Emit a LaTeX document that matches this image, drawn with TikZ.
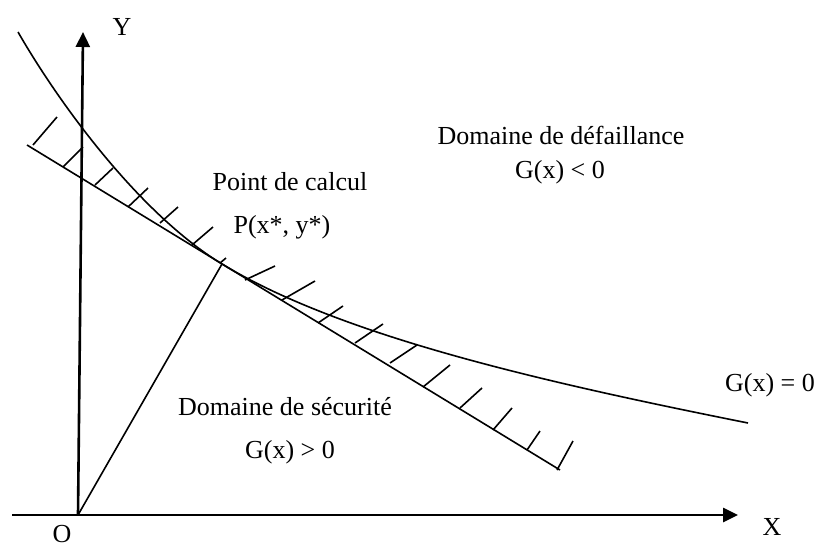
\documentclass[tikz,border=0pt]{standalone}
\usepackage{fontspec}
\setmainfont{Liberation Serif}
\usetikzlibrary{arrows.meta, calc}
\tikzset{
  every node/.style = {font=\fontsize{26}{30}\selectfont, inner sep=0pt},
  axe/.style    = {line width=2.6pt, -{Triangle[length=15pt,width=14pt]}},
  trait/.style  = {line width=1.6pt},
  hachure/.style= {line width=1.6pt},
  lbl/.style    = {anchor=center},
}
\begin{document}
\begin{tikzpicture}[x=1pt, y=-1pt]
\useasboundingbox (0,0) rectangle (817,549);

% axes
\coordinate (O) at (78,515);
\coordinate (xdeb) at (12,515);
\coordinate (xfin) at (738,515);
\coordinate (yfin) at (83,32);
\draw[axe] (xdeb) -- (xfin);
\draw[axe] (O) -- (yfin);
\node[lbl] (lX) at (772,527) {X};
\node[lbl] (lY) at (122,27) {Y};
\node[lbl] (lO) at (62,534) {O};

% etat limite G(x)=0 et tangente
\coordinate (P) at (222,264);
\coordinate (t1) at (27,145);
\coordinate (t2) at (560,470);
\draw[trait] (18,32) .. controls (60,105) and (140,214) .. (P)
  .. controls (342,337) and (548,383) .. (748,423);
\draw[trait] (t1) -- (t2);
\draw[trait] (O) -- (P);

% hachures
\foreach \a/\b/\c/\d in {33/145/57/117, 63/167/83/147, 95/185/113/168,
  128/207/148/188, 160/223/178/207, 192/245/213/227, 220/263/226/258,
  245/280/275/266, 282/300/315/281, 318/323/343/306, 355/343/383/324,
  390/363/417/345, 423/387/450/365, 460/408/482/388, 493/430/512/408,
  527/450/540/431, 557/470/573/441}
  \draw[hachure] (\a,\b) -- (\c,\d);

% textes
\node[lbl] (defail) at (561,135) {Domaine de défaillance};
\node[lbl] (gneg) at (560,172) {G(x) < 0};
\node[lbl] (calc) at (290,182) {Point de calcul};
\node[lbl] (lP) at (282,227) {P(x*, y*)};
\node[lbl] (secu) at (285,407) {Domaine de sécurité};
\node[lbl] (gpos) at (290,452) {G(x) > 0};
\node[lbl] (gnul) at (770,385) {G(x) = 0};
\end{tikzpicture}
\end{document}
